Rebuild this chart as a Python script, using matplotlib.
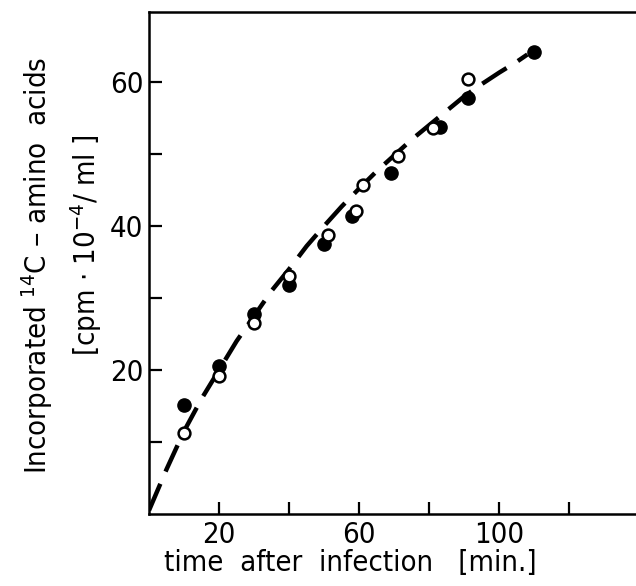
import matplotlib
matplotlib.use("Agg")
import matplotlib.pyplot as plt

plt.rcParams['font.family'] = ['DejaVu Sans']
plt.rcParams['font.stretch'] = 'condensed'

# Data
filled_x = [10, 20, 30, 40, 50, 58, 69, 83, 91, 110]
filled_y = [15.1, 20.6, 27.8, 31.8, 37.5, 41.4, 47.4, 53.8, 57.7, 64.2]
open_x = [10, 20, 30, 40, 51, 59, 61, 71, 81, 91]
open_y = [11.3, 19.1, 26.5, 33.1, 38.7, 42.1, 45.7, 49.7, 53.6, 60.4]
curve_x = [0, 5, 10, 15, 20, 25, 30, 35, 40, 45, 50, 55, 60, 65, 70, 75, 80, 85, 90, 95, 100, 105, 108]
curve_y = [0.5, 6.2, 11.5, 16.0, 20.0, 24.0, 27.5, 31.0, 34.0, 37.2, 40.0, 42.7, 45.2, 47.6,
           49.8, 52.0, 54.0, 56.0, 58.0, 59.7, 61.3, 62.8, 63.8]
xticks = [20, 40, 60, 80, 100, 120]
xticklabels = ['20', '', '60', '', '100', '']
yticks = [10, 20, 30, 40, 50, 60]
yticklabels = ['', '20', '', '40', '', '60']

W, H = 636, 586
fig = plt.figure(figsize=(W / 100, H / 100), dpi=100)
ax = fig.add_axes([149 / W, 1 - 514 / H, (W - 149) / W, (514 - 12) / H])

ax.plot(curve_x, curve_y, color='black', lw=3.2, ls=(0, (6.5, 3)), solid_capstyle='butt',
        dash_capstyle='butt', zorder=2)
ax.plot(filled_x, filled_y, 'o', color='black', ms=9.5, zorder=3)
ax.plot(open_x, open_y, 'o', mfc='white', mec='black', mew=1.8, ms=8.5, zorder=4)

ax.set_xlim(0, 139)
ax.set_ylim(0, 69.7)
ax.set_xticks(xticks)
ax.set_xticklabels(xticklabels)
ax.set_yticks(yticks)
ax.set_yticklabels(yticklabels)
ax.tick_params(direction='in', length=9, width=1.6, labelsize=21, pad=5)
ax.tick_params(axis='y', pad=4)

for s in ['left', 'bottom', 'top']:
    ax.spines[s].set_linewidth(1.8)
ax.spines['right'].set_visible(False)

fig.text((162 + 538) / 2 / W, 1 - 563 / H, 'time  after  infection   [min.]',
         ha='center', va='center', fontsize=21)
fig.text(37 / W, 1 - 265 / H, 'Incorporated $^{14}$C – amino  acids', rotation=90,
         ha='center', va='center', fontsize=21)
fig.text(86 / W, 1 - 245 / H, '[cpm $\\cdot$ 10$^{-4}$/ ml ]', rotation=90,
         ha='center', va='center', fontsize=21)

fig.savefig('out.png', dpi=100)
